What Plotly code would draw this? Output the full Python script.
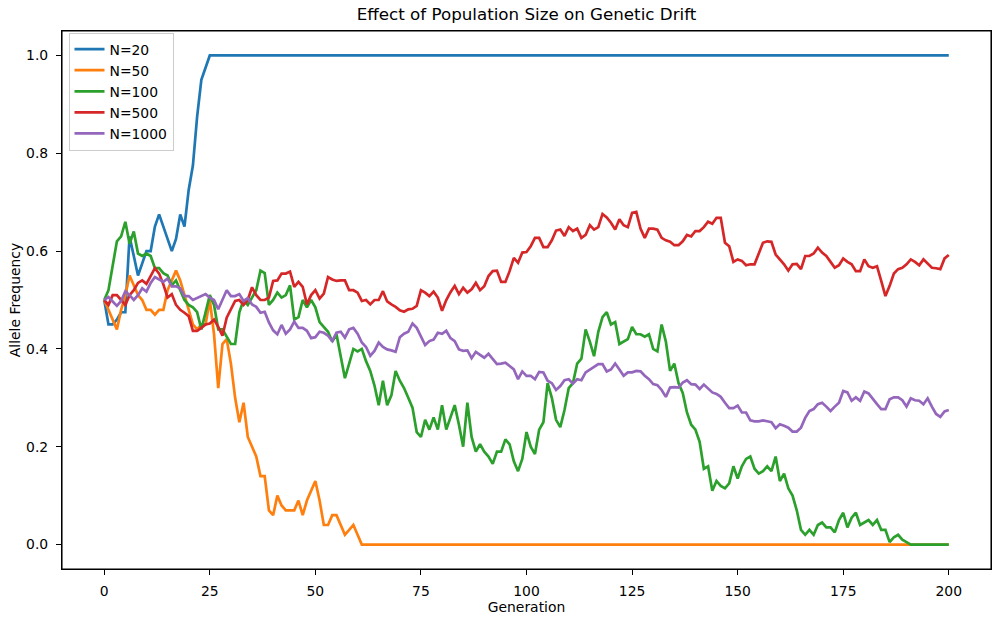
import plotly.graph_objects as go

generations = list(range(201))

n20 = [0.50, 0.45, 0.45, 0.46, 0.475, 0.475, 0.63, 0.59, 0.55, 0.575,
       0.60, 0.60, 0.65, 0.675, 0.65, 0.625, 0.60, 0.625, 0.675, 0.65,
       0.725, 0.775, 0.875, 0.95, 0.975] + [1.0] * 176

n50 = [0.50, 0.48, 0.46, 0.44, 0.48, 0.51, 0.55, 0.53, 0.51, 0.50,
       0.48, 0.48, 0.47, 0.48, 0.48, 0.52, 0.54, 0.56, 0.54, 0.51,
       0.48, 0.45, 0.44, 0.45, 0.45, 0.50, 0.43, 0.32, 0.41, 0.42,
       0.37, 0.30, 0.25, 0.29, 0.22, 0.20, 0.18, 0.14, 0.14, 0.07,
       0.06, 0.10, 0.08, 0.07, 0.07, 0.07, 0.09, 0.06, 0.09, 0.11,
       0.13, 0.09, 0.04, 0.04, 0.06, 0.06, 0.04, 0.02, 0.03, 0.04,
       0.02] + [0.0] * 140

n100 = [0.50, 0.52, 0.57, 0.62, 0.63, 0.66, 0.615, 0.64, 0.595, 0.59,
        0.595, 0.59, 0.565, 0.565, 0.555, 0.55, 0.53, 0.54, 0.52, 0.50,
        0.49, 0.485, 0.475, 0.44, 0.475, 0.51, 0.49, 0.44, 0.44, 0.425,
        0.41, 0.41, 0.475, 0.50, 0.49, 0.505, 0.52, 0.56, 0.555, 0.49,
        0.50, 0.515, 0.505, 0.51, 0.53, 0.46, 0.465, 0.50, 0.485, 0.50,
        0.485, 0.455, 0.445, 0.435, 0.415, 0.43, 0.385, 0.34, 0.37, 0.40,
        0.395, 0.40, 0.375, 0.355, 0.325, 0.285, 0.335, 0.285, 0.305, 0.355,
        0.335, 0.32, 0.30, 0.28, 0.23, 0.22, 0.255, 0.235, 0.26, 0.235,
        0.285, 0.235, 0.26, 0.285, 0.245, 0.20, 0.29, 0.22, 0.19, 0.205,
        0.19, 0.18, 0.165, 0.19, 0.19, 0.215, 0.205, 0.17, 0.15, 0.175,
        0.23, 0.20, 0.185, 0.235, 0.25, 0.33, 0.30, 0.255, 0.24, 0.275,
        0.32, 0.33, 0.37, 0.38, 0.44, 0.415, 0.385, 0.435, 0.465, 0.475,
        0.45, 0.455, 0.41, 0.415, 0.42, 0.445, 0.43, 0.43, 0.425, 0.43,
        0.40, 0.395, 0.45, 0.415, 0.355, 0.37, 0.33, 0.31, 0.27, 0.245,
        0.235, 0.21, 0.155, 0.16, 0.11, 0.13, 0.12, 0.115, 0.125, 0.16,
        0.135, 0.16, 0.175, 0.18, 0.155, 0.145, 0.15, 0.16, 0.15, 0.18,
        0.13, 0.145, 0.115, 0.10, 0.07, 0.03, 0.02, 0.03, 0.02, 0.04,
        0.045, 0.035, 0.035, 0.025, 0.05, 0.065, 0.035, 0.055, 0.065, 0.04,
        0.045, 0.05, 0.04, 0.05, 0.03, 0.03, 0.005, 0.015, 0.02, 0.01,
        0.005] + [0.0] * 10

n500 = [0.50, 0.49, 0.51, 0.51, 0.50, 0.49, 0.51, 0.52, 0.535, 0.54,
        0.533, 0.55, 0.565, 0.554, 0.532, 0.505, 0.512, 0.49, 0.48, 0.474,
        0.467, 0.437, 0.437, 0.443, 0.45, 0.452, 0.46, 0.445, 0.427, 0.464,
        0.481, 0.498, 0.50, 0.49, 0.50, 0.526, 0.51, 0.50, 0.50, 0.505,
        0.539, 0.54, 0.554, 0.554, 0.558, 0.527, 0.537, 0.527, 0.491, 0.51,
        0.52, 0.503, 0.513, 0.547, 0.542, 0.539, 0.54, 0.54, 0.52, 0.52,
        0.515, 0.498, 0.50, 0.491, 0.50, 0.50, 0.518, 0.497, 0.491, 0.486,
        0.479, 0.476, 0.481, 0.482, 0.488, 0.52, 0.515, 0.508, 0.517, 0.505,
        0.478, 0.50, 0.516, 0.529, 0.512, 0.525, 0.515, 0.522, 0.535, 0.52,
        0.528, 0.549, 0.559, 0.56, 0.537, 0.537, 0.559, 0.586, 0.576, 0.597,
        0.598, 0.61, 0.627, 0.627, 0.608, 0.608, 0.622, 0.642, 0.644, 0.631,
        0.649, 0.641, 0.646, 0.627, 0.633, 0.653, 0.644, 0.649, 0.676, 0.669,
        0.658, 0.644, 0.665, 0.653, 0.649, 0.678, 0.68, 0.646, 0.627, 0.646,
        0.646, 0.644, 0.627, 0.622, 0.619, 0.612, 0.612, 0.62, 0.633, 0.63,
        0.641, 0.641, 0.649, 0.66, 0.656, 0.668, 0.668, 0.617, 0.61, 0.578,
        0.583, 0.58, 0.571, 0.573, 0.573, 0.597, 0.617, 0.62, 0.619, 0.593,
        0.583, 0.573, 0.56, 0.573, 0.574, 0.563, 0.59, 0.59, 0.595, 0.607,
        0.597, 0.59, 0.578, 0.566, 0.571, 0.585, 0.578, 0.573, 0.559, 0.559,
        0.583, 0.569, 0.566, 0.569, 0.539, 0.508, 0.529, 0.554, 0.563, 0.566,
        0.573, 0.583, 0.578, 0.571, 0.583, 0.574, 0.566, 0.565, 0.563, 0.585,
        0.592]

n1000 = [0.50, 0.506, 0.497, 0.488, 0.498, 0.518, 0.51, 0.50, 0.51, 0.524,
         0.517, 0.535, 0.547, 0.542, 0.537, 0.544, 0.528, 0.528, 0.524, 0.508,
         0.508, 0.50, 0.504, 0.508, 0.512, 0.505, 0.50, 0.481, 0.50, 0.52,
         0.508, 0.508, 0.512, 0.498, 0.504, 0.491, 0.486, 0.474, 0.476, 0.454,
         0.438, 0.43, 0.449, 0.431, 0.44, 0.456, 0.443, 0.443, 0.437, 0.422,
         0.424, 0.435, 0.433, 0.427, 0.416, 0.433, 0.435, 0.423, 0.44, 0.443,
         0.431, 0.413, 0.404, 0.386, 0.396, 0.413, 0.404, 0.399, 0.397, 0.394,
         0.424, 0.431, 0.435, 0.452, 0.443, 0.424, 0.408, 0.416, 0.419, 0.433,
         0.431, 0.437, 0.422, 0.416, 0.399, 0.396, 0.397, 0.381, 0.394, 0.388,
         0.382, 0.39, 0.379, 0.369, 0.37, 0.372, 0.365, 0.358, 0.338, 0.354,
         0.345, 0.345, 0.338, 0.353, 0.352, 0.335, 0.33, 0.316, 0.324, 0.336,
         0.338, 0.329, 0.338, 0.336, 0.352, 0.358, 0.364, 0.369, 0.369, 0.354,
         0.358, 0.37, 0.358, 0.345, 0.352, 0.352, 0.355, 0.354, 0.345, 0.338,
         0.328, 0.326, 0.316, 0.302, 0.321, 0.322, 0.321, 0.331, 0.336, 0.328,
         0.327, 0.318, 0.327, 0.318, 0.311, 0.308, 0.302, 0.29, 0.279, 0.279,
         0.284, 0.27, 0.27, 0.254, 0.252, 0.252, 0.254, 0.252, 0.25, 0.238,
         0.246, 0.243, 0.239, 0.231, 0.231, 0.239, 0.259, 0.273, 0.277, 0.287,
         0.29, 0.282, 0.273, 0.282, 0.29, 0.314, 0.311, 0.294, 0.301, 0.294,
         0.313, 0.309, 0.297, 0.287, 0.277, 0.277, 0.297, 0.301, 0.301, 0.295,
         0.282, 0.299, 0.295, 0.294, 0.287, 0.299, 0.282, 0.267, 0.261, 0.272,
         0.275]

series_names = ["N=20", "N=50", "N=100", "N=500", "N=1000"]
series_values = [n20, n50, n100, n500, n1000]
series_colors = ["#1f77b4", "#ff7f0e", "#2ca02c", "#d62728", "#9467bd"]

x_ticks = [0, 25, 50, 75, 100, 125, 150, 175, 200]
y_ticks = [0.0, 0.2, 0.4, 0.6, 0.8, 1.0]

FONT = "DejaVu Sans"

fig = go.Figure()
for name, vals, col in zip(series_names, series_values, series_colors):
    fig.add_trace(go.Scatter(
        x=generations[:len(vals)], y=vals, mode="lines", name=name,
        line=dict(color=col, width=2.7)))

axis_common = dict(
    showgrid=False, zeroline=False, showline=True, linecolor="black",
    linewidth=1.1, mirror=True, ticks="outside", ticklen=5, tickwidth=1.1,
    tickcolor="black", tickfont=dict(family=FONT, size=13.9, color="black"),
    automargin=False,
)

fig.update_layout(
    width=1001, height=622,
    margin=dict(l=61.5, r=9.5, t=30.5, b=53, autoexpand=False),
    paper_bgcolor="white", plot_bgcolor="white",
    font=dict(family=FONT, size=13.9, color="black"),
    title=dict(text="Effect of Population Size on Genetic Drift",
               x=(61.5 + 465) / 1001, xref="container", xanchor="center",
               y=1 - 14.5 / 622, yref="container", yanchor="middle",
               font=dict(family=FONT, size=16.7, color="black")),
    xaxis=dict(range=[-10, 210], tickvals=x_ticks,
               ticktext=[str(t) for t in x_ticks],
               title=dict(text="Generation", standoff=1,
                          font=dict(family=FONT, size=13.9)),
               ticklabelstandoff=4,
               **axis_common),
    yaxis=dict(range=[-0.05, 1.05], tickvals=y_ticks,
               ticktext=[f"{t:.1f}" for t in y_ticks],
               title=dict(text="Allele Frequency", standoff=2,
                          font=dict(family=FONT, size=13.9)),
               ticklabelstandoff=5,
               **axis_common),
    legend=dict(x=0.007, y=0.997, xanchor="left", yanchor="top",
                bgcolor="rgba(255,255,255,0.8)", bordercolor="#cccccc",
                borderwidth=1, font=dict(family=FONT, size=13.9, color="black"),
                itemwidth=30, tracegroupgap=0),
    showlegend=True,
    shapes=[dict(type="rect", xref="paper", yref="paper", x0=0, x1=1,
                 y0=0, y1=1, line=dict(color="black", width=1.1),
                 fillcolor="rgba(0,0,0,0)", layer="above")],
)

fig.write_html(
    "out.html",
    config={"displayModeBar": False},
    post_script="document.body.style.margin='0';document.body.style.overflow='hidden';",
)
